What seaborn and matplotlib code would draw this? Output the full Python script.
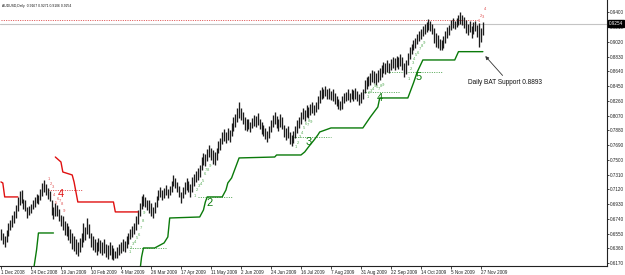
import matplotlib
matplotlib.use("Agg")
import matplotlib.pyplot as plt
import matplotlib.transforms as mtransforms
import numpy as np
import pandas as pd
import seaborn as sns

sns.set_style("white")
plt.rcParams['font.family'] = ['Liberation Sans', 'DejaVu Sans']

# ---------------- data (prices x 1e-4) ----------------
highs = [
    6605, 6555, 6515, 6595, 6692, 6732, 6790, 6840, 6918, 7018,
    7097, 7115, 6998, 6978, 6890, 6908, 6938, 6988, 7028, 7067,
    7047, 7126, 7205, 7235, 7195, 7136, 7097, 6990, 6890, 6940,
    6920, 6870, 6792, 6773, 6713, 6693, 6644, 6615, 6555, 6515,
    6476, 6447, 6496, 6555, 6693, 6634, 6752, 6673, 6555, 6515,
    6476, 6447, 6496, 6467, 6437, 6476, 6418, 6398, 6447, 6398,
    6368, 6330, 6378, 6418, 6447, 6476, 6457, 6515, 6555, 6614,
    6654, 6693, 6772, 6860, 6950, 7038, 7067, 7028, 6988, 6978,
    6948, 6890, 6958, 7038, 7116, 7155, 7106, 7136, 7175, 7126,
    7165, 7234, 7303, 7264, 7214, 7165, 7087, 7146, 7214, 7264,
    7234, 7185, 7283, 7322, 7362, 7392, 7431, 7540, 7590, 7570,
    7639, 7688, 7659, 7629, 7600, 7659, 7737, 7776, 7855, 7895,
    7865, 7915, 7885, 7973, 8052, 8091, 8170, 8239, 8170, 8121,
    8052, 8032, 8022, 7983, 8042, 8082, 8062, 8101, 8032, 7993,
    7944, 7915, 7875, 7934, 8013, 8082, 8111, 8062, 8022, 8091,
    8052, 7954, 7905, 7934, 7855, 7816, 7875, 7934, 8013, 8052,
    8121, 8170, 8140, 8200, 8180, 8220, 8239, 8200, 8249, 8318,
    8397, 8436, 8416, 8446, 8406, 8426, 8387, 8406, 8367, 8328,
    8288, 8259, 8318, 8367, 8377, 8406, 8367, 8416, 8397, 8426,
    8387, 8347, 8377, 8416, 8524, 8563, 8583, 8613, 8662, 8642,
    8623, 8652, 8682, 8721, 8760, 8741, 8780, 8751, 8800, 8820,
    8810, 8839, 8820, 8859, 8829, 8741, 8790, 8878, 8947, 8996,
    9045, 9065, 9114, 9154, 9183, 9222, 9252, 9281, 9311, 9291,
    9252, 9203, 9134, 9104, 9055, 9045, 9095, 9154, 9212, 9232,
    9301, 9321, 9291, 9330, 9360, 9402, 9360, 9340, 9301, 9252,
    9291, 9222, 9281, 9291, 9232, 9260, 9200, 9271]
lows = [
    6470, 6420, 6380, 6440, 6525, 6595, 6633, 6693, 6750, 6840,
    6920, 6950, 6870, 6840, 6752, 6790, 6820, 6870, 6890, 6940,
    6930, 6978, 7038, 7087, 7047, 6998, 6970, 6792, 6733, 6782,
    6772, 6713, 6643, 6595, 6536, 6516, 6467, 6428, 6350, 6330,
    6290, 6260, 6320, 6378, 6447, 6467, 6545, 6496, 6378, 6340,
    6320, 6270, 6330, 6300, 6280, 6300, 6250, 6230, 6280, 6222,
    6205, 6240, 6240, 6280, 6300, 6330, 6320, 6368, 6418, 6476,
    6505, 6545, 6595, 6673, 6772, 6870, 6900, 6890, 6860, 6820,
    6772, 6752, 6810, 6890, 6978, 7028, 6978, 7008, 7047, 7008,
    7047, 7087, 7165, 7136, 7087, 7028, 6950, 7008, 7067, 7116,
    7087, 7028, 7087, 7165, 7214, 7244, 7283, 7372, 7431, 7421,
    7480, 7540, 7500, 7451, 7431, 7500, 7590, 7629, 7698, 7737,
    7717, 7757, 7727, 7806, 7875, 7924, 7983, 8042, 8013, 7963,
    7885, 7875, 7895, 7855, 7905, 7934, 7924, 7953, 7895, 7836,
    7806, 7767, 7727, 7776, 7855, 7924, 7963, 7915, 7875, 7924,
    7895, 7796, 7757, 7776, 7708, 7678, 7717, 7776, 7846, 7905,
    7963, 8022, 8003, 8052, 8042, 8072, 8101, 8072, 8111, 8160,
    8229, 8288, 8298, 8318, 8288, 8278, 8269, 8259, 8219, 8190,
    8150, 8140, 8160, 8229, 8259, 8269, 8249, 8278, 8259, 8288,
    8259, 8210, 8229, 8278, 8367, 8416, 8446, 8465, 8505, 8495,
    8465, 8505, 8524, 8563, 8613, 8603, 8633, 8613, 8652, 8682,
    8662, 8692, 8672, 8711, 8652, 8563, 8603, 8721, 8800, 8859,
    8908, 8937, 8986, 9026, 9055, 9095, 9124, 9144, 9173, 9154,
    9114, 9006, 8957, 8937, 8918, 8908, 8937, 9006, 9065, 9104,
    9173, 9203, 9183, 9212, 9232, 9252, 9242, 9203, 9134, 9104,
    9144, 9075, 9124, 9154, 9080, 8955, 9020, 9106]

# BAT support (green) and resistance (red) line vertices: bar index, price
green1_bar = [17, 19, 20, 28]
green1_val = [6020, 6341, 6559, 6559]
green2_bar = [74, 75, 76, 82, 83, 87, 89, 90, 106, 108, 109, 110, 118, 120, 121,
              123, 125, 127, 146, 147, 160, 162, 164, 167, 169, 170, 176, 193, 197,
              201, 202, 217, 220, 222, 225, 242, 244, 257]
green2_val = [6050, 6250, 6366, 6366, 6379, 6431, 6508, 6752, 6765, 6855, 6958, 7023,
              7023, 7113, 7203, 7267, 7396, 7525, 7537, 7563, 7563, 7602, 7666, 7756,
              7821, 7859, 7911, 7911, 8052, 8181, 8297, 8297, 8490, 8631, 8786, 8786,
              8893, 8893]
red1_bar = [0, 1, 2, 9]
red1_val = [7216, 7203, 7023, 7023]
red2_bar = [29, 32, 33, 38, 39, 41, 60, 61, 73]
red2_val = [7537, 7473, 7344, 7306, 7216, 6958, 6958, 6830, 6830]

# dotted reference levels
gdot_level = [0.6366, 0.7023, 0.7795, 0.8374, 0.8631]
gdot_start = [69, 105, 156, 193, 206]
gdot_end = [88, 123, 176, 213, 235]
rdot_level = [0.7113, 0.9301]
rdot_start = [25, 0]
rdot_end = [43, 255]

# setup counts (start bar of count 1..9)
green_setups = [67, 102, 156, 194, 216]
red_setups = [24]
red_tail_start = 254  # counts 1..4

big_green_labels = ["2", "3", "4", "5"]
big_green_bar = [111, 164, 202, 223]
big_green_price = [0.6945, 0.7730, 0.8297, 0.8567]
big_red_labels = ["4"]
big_red_bar = [32]
big_red_price = [0.7061]

date_labels = ["1 Dec 2008", "24 Dec 2008", "19 Jan 2009", "10 Feb 2009", "4 Mar 2009",
               "26 Mar 2009", "17 Apr 2009", "11 May 2009", "2 Jun 2009", "24 Jun 2009",
               "16 Jul 2009", "7 Aug 2009", "31 Aug 2009", "22 Sep 2009", "14 Oct 2009",
               "5 Nov 2009", "27 Nov 2009"]
date_bars = [0, 16, 32, 48, 64, 80, 96, 112, 128, 144, 160, 176, 192, 208, 224, 240, 256]
ytick_values = [0.6170, 0.6360, 0.6550, 0.6740, 0.6930, 0.7120, 0.7310, 0.7500, 0.7690,
                0.7880, 0.8070, 0.8260, 0.8450, 0.8640, 0.8830, 0.9020, 0.9210, 0.9400]
last_close = 0.9254
header = "AUDUSD,Daily  0.9167 0.9271 0.9106 0.9254"
support_text = "Daily BAT Support 0.8893"
support_level = 0.8893

# ---------------- figure ----------------
df = pd.DataFrame({"bar": np.arange(len(highs)),
                   "high": np.array(highs) / 1e4,
                   "low": np.array(lows) / 1e4})

fig = plt.figure(figsize=(6.25, 2.75), dpi=100)
ax = fig.add_axes([0.0, 9 / 275, 607 / 625, 266 / 275])
ax.set_xlim(-0.5, 323.2)
ax.set_ylim(0.6134, 0.9558)

# current price line
ax.axhline(last_close, color="#c4c4c4", lw=0.8, zorder=1)

# dotted levels
ax.hlines(rdot_level, rdot_start, rdot_end, colors="#d83030", linestyles=(0, (1.2, 1.6)), lw=0.6, zorder=2)
ax.hlines(gdot_level, gdot_start, gdot_end, colors="#3a9a3a", linestyles=(0, (1.2, 1.6)), lw=0.6, zorder=2)

# bars
ax.vlines(df["bar"], df["low"], df["high"], color="#1c1c1c", lw=0.95, zorder=3)

# support / resistance lines
for b, v, c in [(green1_bar, green1_val, "#0a7a0a"), (green2_bar, green2_val, "#0a7a0a"),
                (red1_bar, red1_val, "#e01010"), (red2_bar, red2_val, "#e01010")]:
    sns.lineplot(x=b, y=np.array(v) / 1e4, ax=ax, color=c, lw=1.0,
                 estimator=None, sort=False, legend=False, zorder=4)

# small setup counts
for s in green_setups:
    for k in range(9):
        i = s + k
        ax.text(i + 1.5, df["low"][i] - 0.0030, str(k + 1), color="#55aa55",
                fontsize=3, ha="center", va="top", zorder=5)
for s in red_setups:
    for k in range(9):
        i = s + k
        ax.text(i + 1.5, df["high"][i] + 0.0030, str(k + 1), color="#e05050",
                fontsize=3, ha="center", va="bottom", zorder=5)
for k in range(4):
    i = red_tail_start + k
    ax.text(i + 1.0, df["high"][i] + 0.0030 + 0.004 * k, str(k + 1), color="#e05050",
            fontsize=3, ha="center", va="bottom", zorder=5)

for lab, b, p in zip(big_green_labels, big_green_bar, big_green_price):
    ax.text(b, p, lab, color="#0a7a0a", fontsize=8, ha="center", va="center", zorder=6)
for lab, b, p in zip(big_red_labels, big_red_bar, big_red_price):
    ax.text(b, p, lab, color="#e01010", fontsize=8, ha="center", va="center", zorder=6)

# annotation
ax.annotate("", xy=(257.3, support_level - 0.0030), xytext=(268.5, 0.8560),
            arrowprops=dict(arrowstyle="-|>", color="#333333", lw=0.6, mutation_scale=5))
ax.text(249, 0.8490, support_text, fontsize=4.7, color="#111111", va="center", ha="left")

# header
ax.text(0.003, 0.985, header, transform=ax.transAxes, fontsize=2.4, va="top", ha="left",
        color="#111111")

# axes styling
for s in ["left", "top"]:
    ax.spines[s].set_visible(False)
for s in ["right", "bottom"]:
    ax.spines[s].set_color("#222222")
    ax.spines[s].set_linewidth(0.8)
ax.yaxis.tick_right()
ax.set_yticks(ytick_values)
ax.set_yticklabels([f"{v:.4f}" for v in ytick_values])
ax.tick_params(axis="y", direction="out", length=1.5, width=0.6, pad=0.8, labelsize=3.3,
               colors="#222222", right=True, left=False)
ax.set_xticks(date_bars)
ax.set_xticklabels(date_labels, ha="left")
ax.tick_params(axis="x", direction="out", length=2, width=0.6, pad=1.0, labelsize=3.3,
               colors="#222222", bottom=True)
ax.set_xlabel("")
ax.set_ylabel("")

trans = mtransforms.blended_transform_factory(ax.transAxes, ax.transData)
ax.text(1.003, last_close, f"{last_close:.4f}", transform=trans, fontsize=3.3, color="white",
        va="center", ha="left", clip_on=False, zorder=10,
        bbox=dict(boxstyle="square,pad=0.15", fc="black", ec="black"))

fig.savefig("out.png", dpi=100)
